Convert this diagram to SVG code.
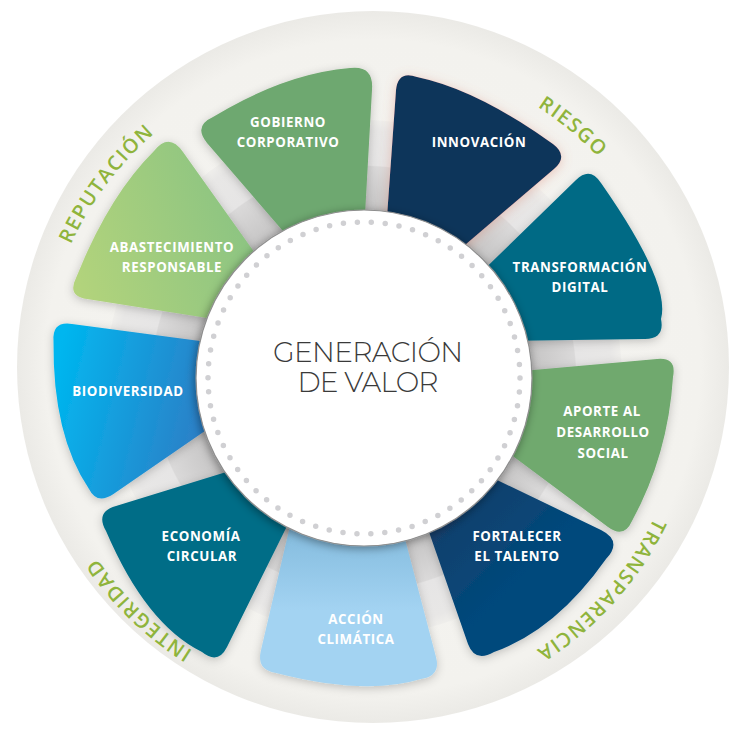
<svg xmlns="http://www.w3.org/2000/svg" width="744" height="737" viewBox="0 0 744 737">
<defs>
<style>
.lbl{font-family:"Open Sans","Liberation Sans",sans-serif;font-weight:700;font-size:13.3px;letter-spacing:0.6px;fill:#ffffff;text-anchor:middle}
.arc{font-family:"Open Sans","Liberation Sans",sans-serif;font-weight:600;font-size:20px;letter-spacing:1.5px;fill:#8fb43c}
.hub{font-family:Montserrat,Lato,"Open Sans",sans-serif;font-weight:300;font-size:28px;fill:#3a3a3a;text-anchor:middle}
.petal{filter:url(#sh)}
</style>
<radialGradient id="ringBg" cx="373" cy="367" r="356" gradientUnits="userSpaceOnUse">
<stop offset="0" stop-color="#f5f4f1"/><stop offset="0.92" stop-color="#f3f2ee"/><stop offset="1" stop-color="#ebeae6"/>
</radialGradient>
<radialGradient id="spokeG" cx="364" cy="378" r="258" gradientUnits="userSpaceOnUse">
<stop offset="0.64" stop-color="#c4c3c3"/><stop offset="0.82" stop-color="#dad9d9"/><stop offset="0.825" stop-color="#e6e5e5"/><stop offset="0.96" stop-color="#e8e7e6"/><stop offset="1" stop-color="#efeeeb"/>
</radialGradient>
<linearGradient id="bioG" x1="52" y1="380" x2="215" y2="420" gradientUnits="userSpaceOnUse">
<stop offset="0" stop-color="#00b6ef"/><stop offset="1" stop-color="#2f7cc4"/>
</linearGradient>
<linearGradient id="abaG" x1="70" y1="290" x2="250" y2="230" gradientUnits="userSpaceOnUse">
<stop offset="0" stop-color="#b4d47b"/><stop offset="1" stop-color="#8cc482"/>
</linearGradient>
<linearGradient id="accG" x1="0" y1="535" x2="0" y2="610" gradientUnits="userSpaceOnUse">
<stop offset="0" stop-color="#86bddf"/><stop offset="1" stop-color="#a3d3f2"/>
</linearGradient>
<linearGradient id="forG" x1="440" y1="500" x2="520" y2="580" gradientUnits="userSpaceOnUse">
<stop offset="0" stop-color="#173f69"/><stop offset="1" stop-color="#00487c"/>
</linearGradient>
<filter id="sh" x="-25%" y="-25%" width="150%" height="150%">
<feDropShadow dx="0" dy="2" stdDeviation="5" flood-color="#000000" flood-opacity="0.22"/>
</filter>
<filter id="shPink" x="-25%" y="-25%" width="150%" height="150%">
<feDropShadow dx="0" dy="2" stdDeviation="6" flood-color="#d9806c" flood-opacity="0.4"/>
</filter>
<filter id="hubSh" x="-20%" y="-20%" width="140%" height="140%">
<feDropShadow dx="-1" dy="2" stdDeviation="5" flood-color="#000000" flood-opacity="0.4"/>
</filter>
<path id="arcPath" d="M 42,378 A 322,322 0 1,1 686,378 A 322,322 0 1,1 42,378"/>
</defs>

<g id="background">
<circle cx="373" cy="367" r="356" fill="url(#ringBg)"/>
</g>

<g id="spokes">
<circle cx="364" cy="378" r="258" fill="url(#spokeG)"/>
</g>

<g id="node-gobierno">
<path class="petal" fill="#6ea86f" d="M 308,260 L 207,143 Q 193,126 213,117 Q 284.5,73.5 350,68 Q 374,65 372,90 L 363,250 Z"/>
<text class="lbl"><tspan x="288" y="127">GOBIERNO</tspan><tspan x="288" y="147">CORPORATIVO</tspan></text>
</g>

<g id="node-innovacion">
<path fill="#11355a" filter="url(#shPink)" d="M 385,245 L 396,90 Q 398,70 417,77 Q 477,89.5 553,144 Q 569,156 554,169 L 437,269 Z"/>
<text class="lbl"><tspan x="479" y="147">INNOVACIÓN</tspan></text>
</g>

<g id="node-transformacion">
<path class="petal" fill="#006b85" d="M 462,291 L 576,180 Q 590,166 601,183 Q 671,283 661,319 Q 665,339 645,339 L 500,341 Z"/>
<text class="lbl"><tspan x="580" y="272">TRANSFORMACIÓN</tspan><tspan x="580" y="292">DIGITAL</tspan></text>
</g>

<g id="node-aporte">
<path class="petal" fill="#6fa96e" d="M 500,373 L 657,359 Q 677,357 673,377 Q 668,455 632,521 Q 624,539 608,527 L 490,439 Z"/>
<text class="lbl"><tspan x="602" y="416">APORTE AL</tspan><tspan x="603" y="437">DESARROLLO</tspan><tspan x="603" y="458">SOCIAL</tspan></text>
</g>

<g id="node-fortalecer">
<path class="petal" fill="url(#forG)" d="M 470,467 L 601,530 Q 623,541 606,559 Q 556,630 494,652 Q 475,663 468,644 L 421,509 Z"/>
<text class="lbl"><tspan x="517" y="541">FORTALECER</tspan><tspan x="517" y="561">EL TALENTO</tspan></text>
</g>

<g id="node-accion">
<path class="petal" fill="url(#accG)" d="M 400,520 L 436,657 Q 441,676 421,679 Q 365.5,696 276,673 Q 256,670 261,650 L 293,513 Z"/>
<text class="lbl"><tspan x="356" y="624">ACCIÓN</tspan><tspan x="356" y="644">CLIMÁTICA</tspan></text>
</g>

<g id="node-economia">
<path class="petal" fill="#006d87" d="M 249,465 L 116,506 Q 95,512 106,531 Q 146,624.5 202,652 Q 218,665 227,647 L 293,514 Z"/>
<text class="lbl"><tspan x="201" y="541">ECONOMÍA</tspan><tspan x="202" y="561">CIRCULAR</tspan></text>
</g>

<g id="node-biodiversidad">
<path class="petal" fill="url(#bioG)" d="M 215,343 L 72,324 Q 52,321 53.5,341 Q 52.5,435 89,489 Q 97,505 113.5,494 L 216.5,423 Z"/>
<text class="lbl"><tspan x="128" y="396">BIODIVERSIDAD</tspan></text>
</g>

<g id="node-abastecimiento">
<path class="petal" fill="url(#abaG)" d="M 262,263 L 183,152 Q 169,132 154,151 Q 109,195.5 76,278 Q 67,296 87,299 L 220,320 Z"/>
<text class="lbl"><tspan x="172" y="252">ABASTECIMIENTO</tspan><tspan x="172" y="272">RESPONSABLE</tspan></text>
</g>

<g id="node-hub">
<circle cx="364" cy="378" r="168" fill="#ffffff" stroke="#8e8e8e" stroke-width="1.2" filter="url(#hubSh)"/>
<circle cx="364" cy="378" r="156" fill="none" stroke="#d0d0d3" stroke-width="5.5" stroke-linecap="round" stroke-dasharray="0 14.003"/>
<text class="hub" x="368" y="362" textLength="190">GENERACIÓN</text>
<text class="hub" x="368" y="392" textLength="141">DE VALOR</text>
</g>

<g id="ring-labels">
<text class="arc"><textPath href="#arcPath" startOffset="208" text-anchor="middle">REPUTACIÓN</textPath></text>
<text class="arc"><textPath href="#arcPath" startOffset="729" text-anchor="middle">RIESGO</textPath></text>
<text class="arc"><textPath href="#arcPath" startOffset="1246" text-anchor="middle">TRANSPARENCIA</textPath></text>
<text class="arc"><textPath href="#arcPath" startOffset="1765" text-anchor="middle">INTEGRIDAD</textPath></text>
</g>
</svg>
